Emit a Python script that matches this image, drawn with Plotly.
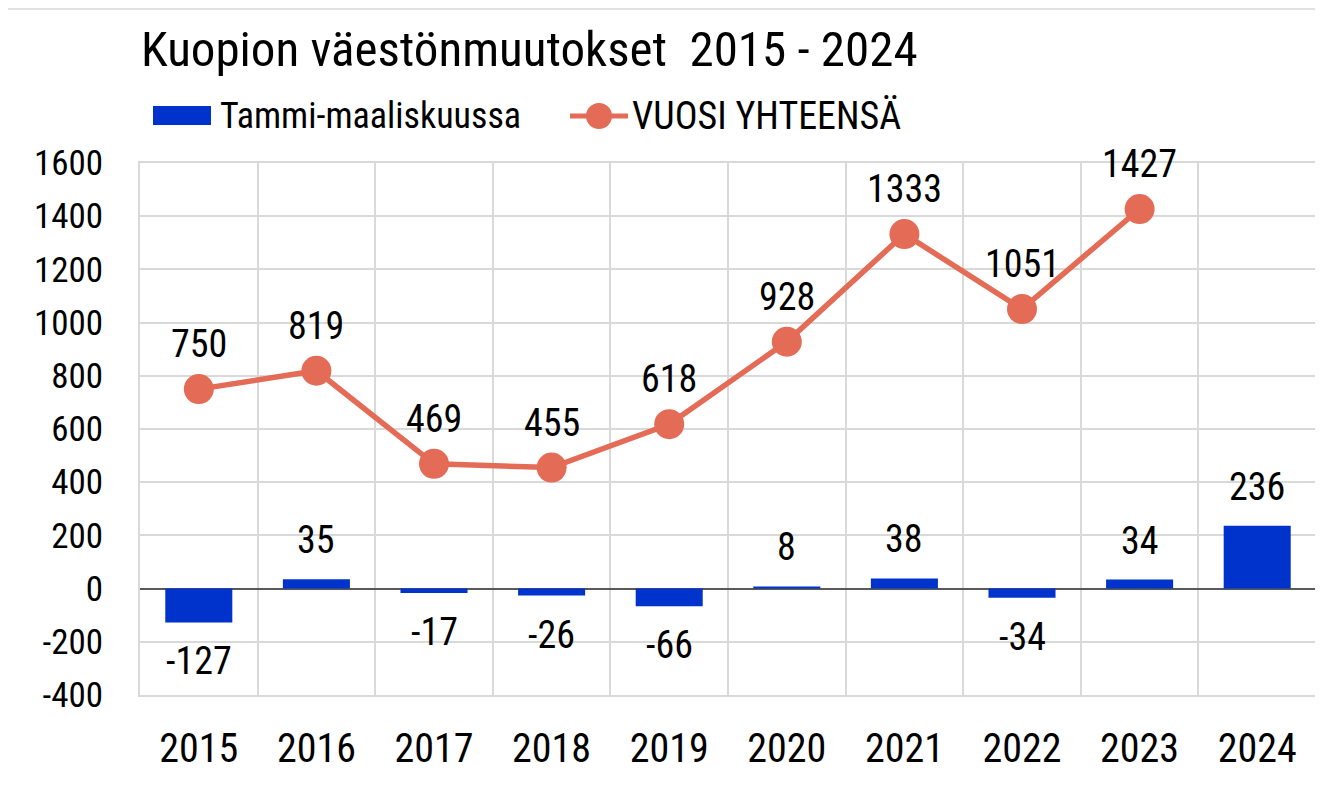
import plotly.graph_objects as go

years = ["2015", "2016", "2017", "2018", "2019", "2020", "2021", "2022", "2023", "2024"]
q1_values = [-127, 35, -17, -26, -66, 8, 38, -34, 34, 236]
year_years = ["2015", "2016", "2017", "2018", "2019", "2020", "2021", "2022", "2023"]
year_values = [750, 819, 469, 455, 618, 928, 1333, 1051, 1427]
y_ticks = [-400, -200, 0, 200, 400, 600, 800, 1000, 1200, 1400, 1600]

FONT = "Liberation Sans Narrow, Roboto Condensed, Arial Narrow, sans-serif"
BLUE = "#0033CC"
ORANGE = "#E46B55"
LABEL_FONT = dict(size=38, family=FONT, color="#000000")

# page has an 8px body margin; work in screenshot coordinates and shift
OFF = 8
W, H = 1323 - OFF, 793 - OFF
L, R, T, B = 140 - OFF, 1316 - OFF, 163 - OFF, 695 - OFF
pw, ph = R - L, B - T


def px(x):
    return (x - OFF - L) / pw


def py(y):
    return (B - (y - OFF)) / ph


fig = go.Figure()
fig.add_trace(go.Bar(
    x=years, y=q1_values, name="Tammi-maaliskuussa",
    marker=dict(color=BLUE, line=dict(width=0)),
    width=0.57, showlegend=False,
))
fig.add_trace(go.Scatter(
    x=year_years, y=year_values, name="VUOSI YHTEENSÄ",
    mode="lines+markers",
    line=dict(color=ORANGE, width=5.5),
    marker=dict(color=ORANGE, size=30),
    cliponaxis=False, showlegend=False,
))

shapes = [
    dict(type="rect", xref="paper", yref="paper", x0=px(4), x1=px(1320), y0=py(794), y1=py(9),
         line=dict(color="#D9D9D9", width=1.5), fillcolor="rgba(0,0,0,0)", layer="below"),
    # legend symbols
    dict(type="rect", xref="paper", yref="paper", x0=px(153), x1=px(211), y0=py(125), y1=py(106),
         line=dict(width=0), fillcolor=BLUE),
    dict(type="line", xref="paper", yref="paper", x0=px(570), x1=px(628), y0=py(116), y1=py(116),
         line=dict(color=ORANGE, width=5)),
    dict(type="circle", xref="paper", yref="paper", x0=px(586), x1=px(612), y0=py(129), y1=py(103),
         line=dict(width=0), fillcolor=ORANGE),
]

annotations = [
    dict(text="Tammi-maaliskuussa", xref="paper", yref="paper", x=px(218), y=py(116),
         xanchor="left", yanchor="middle", showarrow=False,
         font=dict(size=36, family=FONT, color="#000000")),
    dict(text="VUOSI YHTEENSÄ", xref="paper", yref="paper", x=px(630), y=py(116),
         xanchor="left", yanchor="middle", showarrow=False,
         font=dict(size=38, family=FONT, color="#000000")),
]
# data labels (category axis: position by category index)
for xv, v in zip(years, q1_values):
    annotations.append(dict(text=str(v), x=years.index(xv), y=v, xref="x", yref="y", showarrow=False,
                            xanchor="center", yanchor="middle", yshift=39 if v >= 0 else -39,
                            font=LABEL_FONT))
for xv, v in zip(year_years, year_values):
    annotations.append(dict(text=str(v), x=years.index(xv), y=v, xref="x", yref="y", showarrow=False,
                            xanchor="center", yanchor="middle", yshift=45,
                            font=LABEL_FONT))

fig.update_layout(
    width=W, height=H,
    margin=dict(l=L, r=W - R, t=T, b=H - B, autoexpand=False),
    paper_bgcolor="white", plot_bgcolor="white",
    font=dict(family=FONT, color="#000000"),
    title=dict(text="Kuopion väestönmuutokset  2015 - 2024", xref="container", yref="container",
               x=(141 - OFF) / W, xanchor="left", y=1 - (49 - OFF) / H, yanchor="middle",
               font=dict(size=49, family=FONT, color="#000000")),
    showlegend=False,
    bargap=0.43,
    xaxis=dict(type="category", range=[-0.5, 9.5], tickson="boundaries", showgrid=True,
               gridcolor="#D9D9D9", gridwidth=2,
               showline=True, linecolor="#D9D9D9", linewidth=2, mirror=True,
               ticks="", tickfont=dict(size=40, family=FONT, color="#000000"), ticklabelstandoff=17),
    yaxis=dict(range=[-400, 1600], tickvals=y_ticks, ticktext=[str(v) for v in y_ticks],
               showgrid=True, gridcolor="#D9D9D9", gridwidth=2,
               zeroline=True, zerolinecolor="#595959", zerolinewidth=1.5,
               showline=True, linecolor="#D9D9D9", linewidth=2, mirror=True,
               ticks="", tickfont=dict(size=35, family=FONT, color="#000000"), ticklabelstandoff=28),
    shapes=shapes,
    annotations=annotations,
)

fig.write_html("out.html")
